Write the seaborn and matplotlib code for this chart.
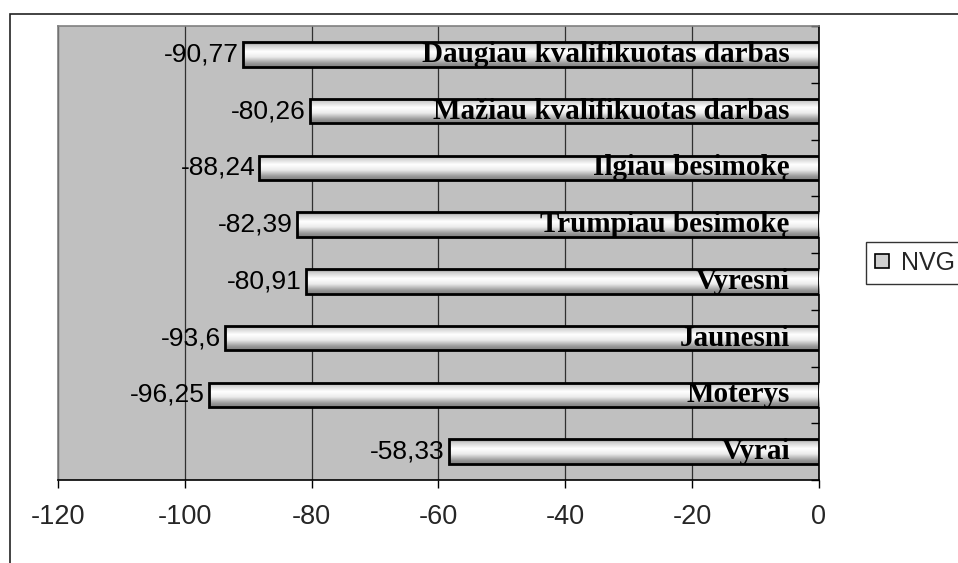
import numpy as np
import pandas as pd
import matplotlib
matplotlib.use("Agg")
import matplotlib.pyplot as plt
from matplotlib.patches import Rectangle, Patch
import seaborn as sns

# Data
categories = [
    "Daugiau kvalifikuotas darbas",
    "Mažiau kvalifikuotas darbas",
    "Ilgiau besimokę",
    "Trumpiau besimokę",
    "Vyresni",
    "Jaunesni",
    "Moterys",
    "Vyrai",
]
values = [-90.77, -80.26, -88.24, -82.39, -80.91, -93.6, -96.25, -58.33]
series_name = "NVG"
x_ticks = [-120, -100, -80, -60, -40, -20, 0]

df = pd.DataFrame({"category": categories, "value": values})

sns.set_theme(style="white")
plt.rcParams["font.family"] = ["Liberation Sans", "DejaVu Sans"]

W, H = 958, 563
fig = plt.figure(figsize=(W / 100, H / 100), dpi=100)
fig.patch.set_facecolor("white")
ax = fig.add_axes([58 / W, 1 - 480 / H, (819 - 58) / W, (480 - 26) / H])
ax.set_facecolor("#c0c0c0")

sns.barplot(data=df, x="value", y="category", orient="h", color="white",
            edgecolor="black", linewidth=2.0, width=0.43, ax=ax, zorder=3)

# Cylinder-like shading inside every bar
stops_t = [0.0, 0.12, 0.38, 0.6, 0.85, 1.0]
stops_v = [0.45, 0.8, 1.0, 0.92, 0.6, 0.5]
rows = np.linspace(0, 1, 120)
grad = np.interp(rows, stops_t, stops_v).reshape(-1, 1)
for p in list(ax.patches):
    x0, y0 = p.get_x(), p.get_y()
    w, h = p.get_width(), p.get_height()
    p.set_facecolor("none")
    p.set_zorder(4)
    im = ax.imshow(grad, extent=(x0, x0 + w, y0 + h, y0), aspect="auto",
                   cmap="gray", vmin=0, vmax=1, interpolation="bilinear",
                   origin="upper", zorder=3)
    im.set_clip_path(p)

ax.set_xlim(-120, 0)
ax.set_ylim(len(categories) - 0.5, -0.5)
ax.set_aspect("auto")

# Category names inside bars and values beside the bar ends
for i, (cat, val) in enumerate(zip(categories, values)):
    ax.annotate(cat, xy=(0, i), xytext=(-21, 0), textcoords="offset points",
                ha="right", va="center", fontsize=21, fontweight="bold",
                family=["Liberation Serif", "DejaVu Serif"], color="black",
                zorder=6)
    label = f"{val:g}".replace(".", ",")
    ax.annotate(label, xy=(val, i), xytext=(-3, 0), textcoords="offset points",
                ha="right", va="center", fontsize=19, color="black", zorder=6)

# Axes styling
ax.set_xticks(x_ticks)
ax.set_xticklabels([str(t) for t in x_ticks], fontsize=19.5)
ax.xaxis.grid(True, color="#303030", linewidth=0.9)
ax.yaxis.grid(False)
ax.set_axisbelow(True)
ax.set_xlabel("")
ax.set_ylabel("")

ax.yaxis.tick_right()
ax.set_yticks(np.arange(-0.5, len(categories) + 0.5, 1.0))
ax.set_yticklabels([])
ax.tick_params(axis="y", direction="in", length=6, width=1, color="black",
               right=True, left=False)
ax.tick_params(axis="x", direction="out", length=6, width=1, color="black",
               pad=11, bottom=True)

for side in ("top", "left"):
    ax.spines[side].set_color("#808080")
    ax.spines[side].set_linewidth(1.2)
for side in ("right", "bottom"):
    ax.spines[side].set_color("black")
    ax.spines[side].set_linewidth(1.2)

# Legend
handle = Patch(facecolor="#cfcfcf", edgecolor="black", linewidth=1.2)
leg = fig.legend([handle], [series_name], loc="upper left",
                 bbox_to_anchor=(866 / W, 1 - 242 / H), borderaxespad=0,
                 fontsize=18, frameon=True, fancybox=False,
                 handlelength=0.55, handleheight=0.45, handletextpad=0.5,
                 borderpad=0.35)
leg.get_frame().set_edgecolor("black")
leg.get_frame().set_linewidth(1.0)

# Chart area border
fig.add_artist(Rectangle((10 / W, -0.2), 2, 1 - 14 / H + 0.2,
                         transform=fig.transFigure, fill=False,
                         edgecolor="#222222", linewidth=1.2))

fig.savefig("out.png", dpi=100)
